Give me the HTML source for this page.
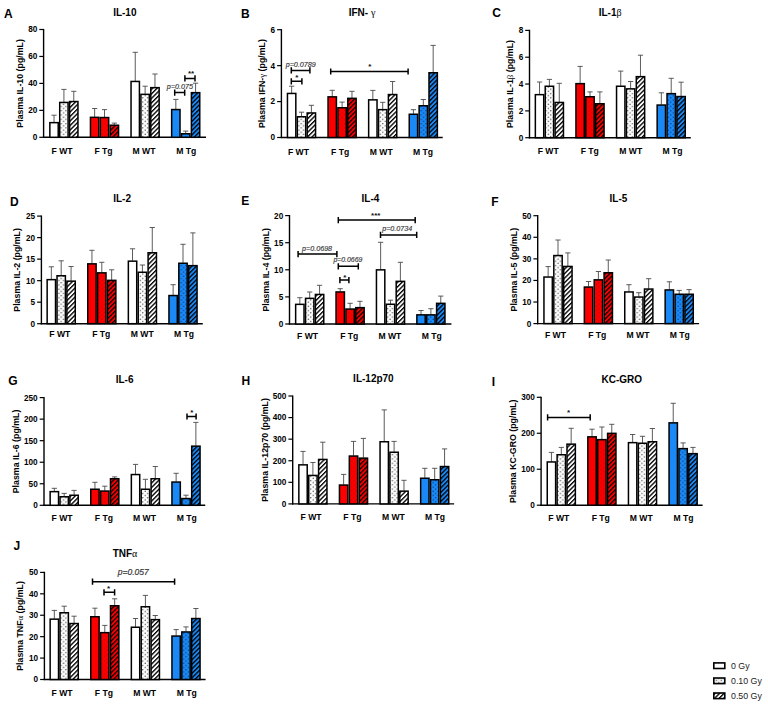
<!DOCTYPE html>
<html><head><meta charset="utf-8"><title>Plasma cytokines</title>
<style>
html,body{margin:0;padding:0;background:#fff;}
body{width:768px;height:708px;overflow:hidden;font-family:"Liberation Sans",sans-serif;}
svg{display:block;}
</style></head><body>
<svg width="768" height="708" viewBox="0 0 768 708">
<defs>
<pattern id="dotW" width="4.8" height="4.3" patternUnits="userSpaceOnUse">
<rect width="4.8" height="4.3" fill="#fbfbfb"/>
<circle cx="1.2" cy="1.07" r="0.65" fill="#333"/><circle cx="3.6" cy="3.22" r="0.65" fill="#333"/></pattern>
<pattern id="dotL" width="4.8" height="4.3" patternUnits="userSpaceOnUse">
<rect width="4.8" height="4.3" fill="#eee"/>
<circle cx="1.2" cy="1.07" r="0.6" fill="#444"/><circle cx="3.6" cy="3.22" r="0.6" fill="#444"/></pattern>
<pattern id="dotR" width="4.8" height="4.3" patternUnits="userSpaceOnUse">
<rect width="4.8" height="4.3" fill="#fa0000"/>
<circle cx="1.2" cy="1.07" r="0.55" fill="#c00000"/><circle cx="3.6" cy="3.22" r="0.55" fill="#c00000"/></pattern>
<pattern id="dotB" width="4.8" height="4.3" patternUnits="userSpaceOnUse">
<rect width="4.8" height="4.3" fill="#1a88f5"/>
<circle cx="1.2" cy="1.07" r="0.62" fill="#002a66"/><circle cx="3.6" cy="3.22" r="0.62" fill="#002a66"/></pattern>
<pattern id="hatW" width="3.2" height="3.2" patternUnits="userSpaceOnUse" patternTransform="rotate(45)">
<rect width="3.2" height="3.2" fill="#fff"/><rect width="1.35" height="3.2" fill="#000"/></pattern>
<pattern id="hatR" width="3.2" height="3.2" patternUnits="userSpaceOnUse" patternTransform="rotate(45)">
<rect width="3.2" height="3.2" fill="#fa0000"/><rect width="1.25" height="3.2" fill="#000"/></pattern>
<pattern id="hatB" width="3.2" height="3.2" patternUnits="userSpaceOnUse" patternTransform="rotate(45)">
<rect width="3.2" height="3.2" fill="#1a88f5"/><rect width="1.3" height="3.2" fill="#000"/></pattern>
</defs>
<rect width="768" height="708" fill="#fff"/>
<line x1="43.60" y1="28.90" x2="43.60" y2="137.90" stroke="#000" stroke-width="1.4"/>
<line x1="42.90" y1="137.30" x2="206.00" y2="137.30" stroke="#000" stroke-width="1.4"/>
<line x1="39.30" y1="137.30" x2="43.60" y2="137.30" stroke="#000" stroke-width="1.2"/>
<text x="37.30" y="140.20" font-family="Liberation Sans, sans-serif" font-size="8.2" font-weight="bold" font-style="normal" text-anchor="end" fill="#000" >0</text>
<line x1="39.30" y1="110.35" x2="43.60" y2="110.35" stroke="#000" stroke-width="1.2"/>
<text x="37.30" y="113.25" font-family="Liberation Sans, sans-serif" font-size="8.2" font-weight="bold" font-style="normal" text-anchor="end" fill="#000" >20</text>
<line x1="39.30" y1="83.40" x2="43.60" y2="83.40" stroke="#000" stroke-width="1.2"/>
<text x="37.30" y="86.30" font-family="Liberation Sans, sans-serif" font-size="8.2" font-weight="bold" font-style="normal" text-anchor="end" fill="#000" >40</text>
<line x1="39.30" y1="56.45" x2="43.60" y2="56.45" stroke="#000" stroke-width="1.2"/>
<text x="37.30" y="59.35" font-family="Liberation Sans, sans-serif" font-size="8.2" font-weight="bold" font-style="normal" text-anchor="end" fill="#000" >60</text>
<line x1="39.30" y1="29.50" x2="43.60" y2="29.50" stroke="#000" stroke-width="1.2"/>
<text x="37.30" y="32.40" font-family="Liberation Sans, sans-serif" font-size="8.2" font-weight="bold" font-style="normal" text-anchor="end" fill="#000" >80</text>
<text x="124.80" y="16.30" font-family="Liberation Sans, sans-serif" font-size="10" font-weight="bold" font-style="normal" text-anchor="middle" fill="#000" >IL-10</text>
<text x="4.00" y="17.80" font-family="Liberation Sans, sans-serif" font-size="12" font-weight="bold" font-style="normal" text-anchor="start" fill="#000" >A</text>
<text transform="translate(23.30,83.40) rotate(-90)" x="0" y="0" font-family="Liberation Sans, sans-serif" font-size="8.8" font-weight="bold" text-anchor="middle">Plasma IL-10 (pg/mL)</text>
<text x="62.00" y="153.60" font-family="Liberation Sans, sans-serif" font-size="8.6" font-weight="bold" font-style="normal" text-anchor="middle" fill="#000" >F WT</text>
<line x1="54.04" y1="115.20" x2="54.04" y2="122.30" stroke="#4a4a4a" stroke-width="0.9"/>
<line x1="51.44" y1="115.20" x2="56.64" y2="115.20" stroke="#4a4a4a" stroke-width="0.9"/>
<rect x="49.85" y="122.65" width="8.37" height="14.65" fill="#fff" stroke="#000" stroke-width="1.5"/>
<line x1="63.91" y1="89.40" x2="63.91" y2="102.10" stroke="#4a4a4a" stroke-width="0.9"/>
<line x1="61.30" y1="89.40" x2="66.50" y2="89.40" stroke="#4a4a4a" stroke-width="0.9"/>
<rect x="59.72" y="102.45" width="8.37" height="34.85" fill="url(#dotW)" stroke="#000" stroke-width="1.5"/>
<line x1="73.78" y1="91.30" x2="73.78" y2="101.20" stroke="#4a4a4a" stroke-width="0.9"/>
<line x1="71.18" y1="91.30" x2="76.38" y2="91.30" stroke="#4a4a4a" stroke-width="0.9"/>
<rect x="69.59" y="101.55" width="8.37" height="35.75" fill="url(#hatW)" stroke="#000" stroke-width="1.5"/>
<text x="103.50" y="153.60" font-family="Liberation Sans, sans-serif" font-size="8.6" font-weight="bold" font-style="normal" text-anchor="middle" fill="#000" >F Tg</text>
<line x1="94.64" y1="108.50" x2="94.64" y2="117.00" stroke="#4a4a4a" stroke-width="0.9"/>
<line x1="92.04" y1="108.50" x2="97.23" y2="108.50" stroke="#4a4a4a" stroke-width="0.9"/>
<rect x="90.45" y="117.35" width="8.37" height="19.95" fill="#fa0000" stroke="#000" stroke-width="1.5"/>
<line x1="104.51" y1="109.60" x2="104.51" y2="117.20" stroke="#4a4a4a" stroke-width="0.9"/>
<line x1="101.91" y1="109.60" x2="107.11" y2="109.60" stroke="#4a4a4a" stroke-width="0.9"/>
<rect x="100.32" y="117.55" width="8.37" height="19.75" fill="url(#dotR)" stroke="#000" stroke-width="1.5"/>
<line x1="114.38" y1="123.10" x2="114.38" y2="124.90" stroke="#4a4a4a" stroke-width="0.9"/>
<line x1="111.78" y1="123.10" x2="116.97" y2="123.10" stroke="#4a4a4a" stroke-width="0.9"/>
<rect x="110.19" y="125.25" width="8.37" height="12.05" fill="url(#hatR)" stroke="#000" stroke-width="1.5"/>
<text x="144.00" y="153.60" font-family="Liberation Sans, sans-serif" font-size="8.6" font-weight="bold" font-style="normal" text-anchor="middle" fill="#000" >M WT</text>
<line x1="135.24" y1="52.30" x2="135.24" y2="81.10" stroke="#4a4a4a" stroke-width="0.9"/>
<line x1="132.64" y1="52.30" x2="137.84" y2="52.30" stroke="#4a4a4a" stroke-width="0.9"/>
<rect x="131.05" y="81.45" width="8.37" height="55.85" fill="#fff" stroke="#000" stroke-width="1.5"/>
<line x1="145.11" y1="86.20" x2="145.11" y2="94.00" stroke="#4a4a4a" stroke-width="0.9"/>
<line x1="142.51" y1="86.20" x2="147.71" y2="86.20" stroke="#4a4a4a" stroke-width="0.9"/>
<rect x="140.92" y="94.35" width="8.37" height="42.95" fill="url(#dotW)" stroke="#000" stroke-width="1.5"/>
<line x1="154.98" y1="74.00" x2="154.98" y2="87.30" stroke="#4a4a4a" stroke-width="0.9"/>
<line x1="152.38" y1="74.00" x2="157.58" y2="74.00" stroke="#4a4a4a" stroke-width="0.9"/>
<rect x="150.79" y="87.65" width="8.37" height="49.65" fill="url(#hatW)" stroke="#000" stroke-width="1.5"/>
<text x="186.20" y="153.60" font-family="Liberation Sans, sans-serif" font-size="8.6" font-weight="bold" font-style="normal" text-anchor="middle" fill="#000" >M Tg</text>
<line x1="175.84" y1="99.40" x2="175.84" y2="109.20" stroke="#4a4a4a" stroke-width="0.9"/>
<line x1="173.24" y1="99.40" x2="178.44" y2="99.40" stroke="#4a4a4a" stroke-width="0.9"/>
<rect x="171.65" y="109.55" width="8.37" height="27.75" fill="#1a88f5" stroke="#000" stroke-width="1.5"/>
<line x1="185.71" y1="131.10" x2="185.71" y2="133.40" stroke="#4a4a4a" stroke-width="0.9"/>
<line x1="183.11" y1="131.10" x2="188.31" y2="131.10" stroke="#4a4a4a" stroke-width="0.9"/>
<rect x="181.52" y="133.75" width="8.37" height="3.55" fill="url(#dotB)" stroke="#000" stroke-width="1.5"/>
<line x1="195.58" y1="83.20" x2="195.58" y2="92.30" stroke="#4a4a4a" stroke-width="0.9"/>
<line x1="192.98" y1="83.20" x2="198.18" y2="83.20" stroke="#4a4a4a" stroke-width="0.9"/>
<rect x="191.39" y="92.65" width="8.37" height="44.65" fill="url(#hatB)" stroke="#000" stroke-width="1.5"/>
<path d="M174.70,89.50V95.70M174.70,92.60H184.70M184.70,89.50V95.70" stroke="#000" stroke-width="1.5" fill="none"/>
<text x="179.85" y="88.60" font-family="Liberation Sans, sans-serif" font-size="7.3" font-weight="normal" font-style="italic" text-anchor="middle" fill="#333" stroke="#333" stroke-width="0.15" textLength="26.2" lengthAdjust="spacingAndGlyphs">p=0.075</text>
<path d="M184.90,75.30V81.50M184.90,78.40H195.00M195.00,75.30V81.50" stroke="#000" stroke-width="1.5" fill="none"/>
<text x="191.00" y="75.60" font-family="Liberation Sans, sans-serif" font-size="8" font-weight="bold" font-style="normal" text-anchor="middle" fill="#111" >**</text>
<line x1="281.40" y1="29.10" x2="281.40" y2="138.10" stroke="#000" stroke-width="1.4"/>
<line x1="280.70" y1="137.50" x2="442.70" y2="137.50" stroke="#000" stroke-width="1.4"/>
<line x1="277.10" y1="137.50" x2="281.40" y2="137.50" stroke="#000" stroke-width="1.2"/>
<text x="275.10" y="140.40" font-family="Liberation Sans, sans-serif" font-size="8.2" font-weight="bold" font-style="normal" text-anchor="end" fill="#000" >0</text>
<line x1="277.10" y1="101.57" x2="281.40" y2="101.57" stroke="#000" stroke-width="1.2"/>
<text x="275.10" y="104.47" font-family="Liberation Sans, sans-serif" font-size="8.2" font-weight="bold" font-style="normal" text-anchor="end" fill="#000" >2</text>
<line x1="277.10" y1="65.63" x2="281.40" y2="65.63" stroke="#000" stroke-width="1.2"/>
<text x="275.10" y="68.53" font-family="Liberation Sans, sans-serif" font-size="8.2" font-weight="bold" font-style="normal" text-anchor="end" fill="#000" >4</text>
<line x1="277.10" y1="29.70" x2="281.40" y2="29.70" stroke="#000" stroke-width="1.2"/>
<text x="275.10" y="32.60" font-family="Liberation Sans, sans-serif" font-size="8.2" font-weight="bold" font-style="normal" text-anchor="end" fill="#000" >6</text>
<text x="362.05" y="15.60" font-family="Liberation Sans, sans-serif" font-size="10" font-weight="bold" font-style="normal" text-anchor="middle" fill="#000" >IFN- <tspan font-family="Liberation Serif" font-weight="normal">γ</tspan></text>
<text x="241.00" y="18.30" font-family="Liberation Sans, sans-serif" font-size="12" font-weight="bold" font-style="normal" text-anchor="start" fill="#000" >B</text>
<text transform="translate(265.30,83.60) rotate(-90)" x="0" y="0" font-family="Liberation Sans, sans-serif" font-size="8.8" font-weight="bold" text-anchor="middle">Plasma IFN-<tspan font-family="Liberation Serif" font-weight="normal">γ</tspan> (pg/mL)</text>
<text x="298.40" y="155.10" font-family="Liberation Sans, sans-serif" font-size="8.6" font-weight="bold" font-style="normal" text-anchor="middle" fill="#000" >F WT</text>
<line x1="291.63" y1="86.20" x2="291.63" y2="93.10" stroke="#4a4a4a" stroke-width="0.9"/>
<line x1="289.03" y1="86.20" x2="294.24" y2="86.20" stroke="#4a4a4a" stroke-width="0.9"/>
<rect x="287.45" y="93.45" width="8.37" height="44.05" fill="#fff" stroke="#000" stroke-width="1.5"/>
<line x1="301.50" y1="112.20" x2="301.50" y2="116.40" stroke="#4a4a4a" stroke-width="0.9"/>
<line x1="298.90" y1="112.20" x2="304.11" y2="112.20" stroke="#4a4a4a" stroke-width="0.9"/>
<rect x="297.32" y="116.75" width="8.37" height="20.75" fill="url(#dotW)" stroke="#000" stroke-width="1.5"/>
<line x1="311.38" y1="105.30" x2="311.38" y2="112.60" stroke="#4a4a4a" stroke-width="0.9"/>
<line x1="308.77" y1="105.30" x2="313.98" y2="105.30" stroke="#4a4a4a" stroke-width="0.9"/>
<rect x="307.19" y="112.95" width="8.37" height="24.55" fill="url(#hatW)" stroke="#000" stroke-width="1.5"/>
<text x="340.10" y="155.10" font-family="Liberation Sans, sans-serif" font-size="8.6" font-weight="bold" font-style="normal" text-anchor="middle" fill="#000" >F Tg</text>
<line x1="332.24" y1="90.30" x2="332.24" y2="96.50" stroke="#4a4a4a" stroke-width="0.9"/>
<line x1="329.63" y1="90.30" x2="334.84" y2="90.30" stroke="#4a4a4a" stroke-width="0.9"/>
<rect x="328.05" y="96.85" width="8.37" height="40.65" fill="#fa0000" stroke="#000" stroke-width="1.5"/>
<line x1="342.11" y1="102.10" x2="342.11" y2="107.40" stroke="#4a4a4a" stroke-width="0.9"/>
<line x1="339.50" y1="102.10" x2="344.71" y2="102.10" stroke="#4a4a4a" stroke-width="0.9"/>
<rect x="337.92" y="107.75" width="8.37" height="29.75" fill="url(#dotR)" stroke="#000" stroke-width="1.5"/>
<line x1="351.98" y1="91.30" x2="351.98" y2="98.00" stroke="#4a4a4a" stroke-width="0.9"/>
<line x1="349.38" y1="91.30" x2="354.58" y2="91.30" stroke="#4a4a4a" stroke-width="0.9"/>
<rect x="347.79" y="98.35" width="8.37" height="39.15" fill="url(#hatR)" stroke="#000" stroke-width="1.5"/>
<text x="381.20" y="155.10" font-family="Liberation Sans, sans-serif" font-size="8.6" font-weight="bold" font-style="normal" text-anchor="middle" fill="#000" >M WT</text>
<line x1="372.83" y1="90.40" x2="372.83" y2="99.50" stroke="#4a4a4a" stroke-width="0.9"/>
<line x1="370.23" y1="90.40" x2="375.44" y2="90.40" stroke="#4a4a4a" stroke-width="0.9"/>
<rect x="368.65" y="99.85" width="8.37" height="37.65" fill="#fff" stroke="#000" stroke-width="1.5"/>
<line x1="382.70" y1="102.30" x2="382.70" y2="109.30" stroke="#4a4a4a" stroke-width="0.9"/>
<line x1="380.10" y1="102.30" x2="385.31" y2="102.30" stroke="#4a4a4a" stroke-width="0.9"/>
<rect x="378.52" y="109.65" width="8.37" height="27.85" fill="url(#dotW)" stroke="#000" stroke-width="1.5"/>
<line x1="392.57" y1="81.50" x2="392.57" y2="94.20" stroke="#4a4a4a" stroke-width="0.9"/>
<line x1="389.97" y1="81.50" x2="395.18" y2="81.50" stroke="#4a4a4a" stroke-width="0.9"/>
<rect x="388.39" y="94.55" width="8.37" height="42.95" fill="url(#hatW)" stroke="#000" stroke-width="1.5"/>
<text x="423.00" y="155.10" font-family="Liberation Sans, sans-serif" font-size="8.6" font-weight="bold" font-style="normal" text-anchor="middle" fill="#000" >M Tg</text>
<line x1="413.44" y1="109.70" x2="413.44" y2="113.90" stroke="#4a4a4a" stroke-width="0.9"/>
<line x1="410.83" y1="109.70" x2="416.04" y2="109.70" stroke="#4a4a4a" stroke-width="0.9"/>
<rect x="409.25" y="114.25" width="8.37" height="23.25" fill="#1a88f5" stroke="#000" stroke-width="1.5"/>
<line x1="423.31" y1="99.50" x2="423.31" y2="105.40" stroke="#4a4a4a" stroke-width="0.9"/>
<line x1="420.70" y1="99.50" x2="425.91" y2="99.50" stroke="#4a4a4a" stroke-width="0.9"/>
<rect x="419.12" y="105.75" width="8.37" height="31.75" fill="url(#dotB)" stroke="#000" stroke-width="1.5"/>
<line x1="433.18" y1="45.40" x2="433.18" y2="72.40" stroke="#4a4a4a" stroke-width="0.9"/>
<line x1="430.57" y1="45.40" x2="435.78" y2="45.40" stroke="#4a4a4a" stroke-width="0.9"/>
<rect x="428.99" y="72.75" width="8.37" height="64.75" fill="url(#hatB)" stroke="#000" stroke-width="1.5"/>
<path d="M291.30,78.20V84.40M291.30,81.30H301.90M301.90,78.20V84.40" stroke="#000" stroke-width="1.5" fill="none"/>
<text x="296.90" y="80.40" font-family="Liberation Sans, sans-serif" font-size="8" font-weight="bold" font-style="normal" text-anchor="middle" fill="#111" >*</text>
<path d="M291.30,67.30V73.50M291.30,70.40H309.90M309.90,67.30V73.50" stroke="#000" stroke-width="1.5" fill="none"/>
<text x="300.75" y="66.70" font-family="Liberation Sans, sans-serif" font-size="7.4" font-weight="normal" font-style="italic" text-anchor="middle" fill="#333" stroke="#333" stroke-width="0.15" textLength="30.1" lengthAdjust="spacingAndGlyphs">p=0.0789</text>
<path d="M330.70,68.40V74.60M330.70,71.50H408.10M408.10,68.40V74.60" stroke="#000" stroke-width="1.5" fill="none"/>
<text x="369.70" y="69.00" font-family="Liberation Sans, sans-serif" font-size="8" font-weight="bold" font-style="normal" text-anchor="middle" fill="#111" >*</text>
<line x1="529.50" y1="29.80" x2="529.50" y2="138.30" stroke="#000" stroke-width="1.4"/>
<line x1="528.80" y1="137.70" x2="690.80" y2="137.70" stroke="#000" stroke-width="1.4"/>
<line x1="525.20" y1="137.70" x2="529.50" y2="137.70" stroke="#000" stroke-width="1.2"/>
<text x="523.20" y="140.60" font-family="Liberation Sans, sans-serif" font-size="8.2" font-weight="bold" font-style="normal" text-anchor="end" fill="#000" >0</text>
<line x1="525.20" y1="110.88" x2="529.50" y2="110.88" stroke="#000" stroke-width="1.2"/>
<text x="523.20" y="113.78" font-family="Liberation Sans, sans-serif" font-size="8.2" font-weight="bold" font-style="normal" text-anchor="end" fill="#000" >2</text>
<line x1="525.20" y1="84.05" x2="529.50" y2="84.05" stroke="#000" stroke-width="1.2"/>
<text x="523.20" y="86.95" font-family="Liberation Sans, sans-serif" font-size="8.2" font-weight="bold" font-style="normal" text-anchor="end" fill="#000" >4</text>
<line x1="525.20" y1="57.22" x2="529.50" y2="57.22" stroke="#000" stroke-width="1.2"/>
<text x="523.20" y="60.12" font-family="Liberation Sans, sans-serif" font-size="8.2" font-weight="bold" font-style="normal" text-anchor="end" fill="#000" >6</text>
<line x1="525.20" y1="30.40" x2="529.50" y2="30.40" stroke="#000" stroke-width="1.2"/>
<text x="523.20" y="33.30" font-family="Liberation Sans, sans-serif" font-size="8.2" font-weight="bold" font-style="normal" text-anchor="end" fill="#000" >8</text>
<text x="610.15" y="15.60" font-family="Liberation Sans, sans-serif" font-size="10" font-weight="bold" font-style="normal" text-anchor="middle" fill="#000" >IL-1<tspan font-family="Liberation Serif" font-weight="normal">β</tspan></text>
<text x="492.30" y="17.30" font-family="Liberation Sans, sans-serif" font-size="12" font-weight="bold" font-style="normal" text-anchor="start" fill="#000" >C</text>
<text transform="translate(512.80,84.05) rotate(-90)" x="0" y="0" font-family="Liberation Sans, sans-serif" font-size="8.8" font-weight="bold" text-anchor="middle">Plasma IL-1<tspan font-family="Liberation Serif" font-weight="normal">β</tspan> (pg/mL)</text>
<text x="548.20" y="153.50" font-family="Liberation Sans, sans-serif" font-size="8.6" font-weight="bold" font-style="normal" text-anchor="middle" fill="#000" >F WT</text>
<line x1="539.53" y1="82.00" x2="539.53" y2="94.30" stroke="#4a4a4a" stroke-width="0.9"/>
<line x1="536.93" y1="82.00" x2="542.13" y2="82.00" stroke="#4a4a4a" stroke-width="0.9"/>
<rect x="535.35" y="94.65" width="8.37" height="43.05" fill="#fff" stroke="#000" stroke-width="1.5"/>
<line x1="549.40" y1="79.40" x2="549.40" y2="85.90" stroke="#4a4a4a" stroke-width="0.9"/>
<line x1="546.80" y1="79.40" x2="552.00" y2="79.40" stroke="#4a4a4a" stroke-width="0.9"/>
<rect x="545.22" y="86.25" width="8.37" height="51.45" fill="url(#dotW)" stroke="#000" stroke-width="1.5"/>
<line x1="559.27" y1="83.30" x2="559.27" y2="102.10" stroke="#4a4a4a" stroke-width="0.9"/>
<line x1="556.67" y1="83.30" x2="561.88" y2="83.30" stroke="#4a4a4a" stroke-width="0.9"/>
<rect x="555.09" y="102.45" width="8.37" height="35.25" fill="url(#hatW)" stroke="#000" stroke-width="1.5"/>
<text x="589.80" y="153.50" font-family="Liberation Sans, sans-serif" font-size="8.6" font-weight="bold" font-style="normal" text-anchor="middle" fill="#000" >F Tg</text>
<line x1="580.13" y1="66.40" x2="580.13" y2="83.30" stroke="#4a4a4a" stroke-width="0.9"/>
<line x1="577.53" y1="66.40" x2="582.74" y2="66.40" stroke="#4a4a4a" stroke-width="0.9"/>
<rect x="575.95" y="83.65" width="8.37" height="54.05" fill="#fa0000" stroke="#000" stroke-width="1.5"/>
<line x1="590.00" y1="91.90" x2="590.00" y2="96.40" stroke="#4a4a4a" stroke-width="0.9"/>
<line x1="587.40" y1="91.90" x2="592.61" y2="91.90" stroke="#4a4a4a" stroke-width="0.9"/>
<rect x="585.82" y="96.75" width="8.37" height="40.95" fill="url(#dotR)" stroke="#000" stroke-width="1.5"/>
<line x1="599.88" y1="91.90" x2="599.88" y2="103.40" stroke="#4a4a4a" stroke-width="0.9"/>
<line x1="597.27" y1="91.90" x2="602.48" y2="91.90" stroke="#4a4a4a" stroke-width="0.9"/>
<rect x="595.69" y="103.75" width="8.37" height="33.95" fill="url(#hatR)" stroke="#000" stroke-width="1.5"/>
<text x="630.80" y="153.50" font-family="Liberation Sans, sans-serif" font-size="8.6" font-weight="bold" font-style="normal" text-anchor="middle" fill="#000" >M WT</text>
<line x1="620.74" y1="71.10" x2="620.74" y2="85.90" stroke="#4a4a4a" stroke-width="0.9"/>
<line x1="618.13" y1="71.10" x2="623.34" y2="71.10" stroke="#4a4a4a" stroke-width="0.9"/>
<rect x="616.55" y="86.25" width="8.37" height="51.45" fill="#fff" stroke="#000" stroke-width="1.5"/>
<line x1="630.61" y1="81.50" x2="630.61" y2="88.50" stroke="#4a4a4a" stroke-width="0.9"/>
<line x1="628.00" y1="81.50" x2="633.21" y2="81.50" stroke="#4a4a4a" stroke-width="0.9"/>
<rect x="626.42" y="88.85" width="8.37" height="48.85" fill="url(#dotW)" stroke="#000" stroke-width="1.5"/>
<line x1="640.48" y1="55.20" x2="640.48" y2="76.30" stroke="#4a4a4a" stroke-width="0.9"/>
<line x1="637.88" y1="55.20" x2="643.08" y2="55.20" stroke="#4a4a4a" stroke-width="0.9"/>
<rect x="636.29" y="76.65" width="8.37" height="61.05" fill="url(#hatW)" stroke="#000" stroke-width="1.5"/>
<text x="672.40" y="153.50" font-family="Liberation Sans, sans-serif" font-size="8.6" font-weight="bold" font-style="normal" text-anchor="middle" fill="#000" >M Tg</text>
<line x1="661.34" y1="92.80" x2="661.34" y2="104.70" stroke="#4a4a4a" stroke-width="0.9"/>
<line x1="658.74" y1="92.80" x2="663.94" y2="92.80" stroke="#4a4a4a" stroke-width="0.9"/>
<rect x="657.15" y="105.05" width="8.37" height="32.65" fill="#1a88f5" stroke="#000" stroke-width="1.5"/>
<line x1="671.21" y1="78.30" x2="671.21" y2="93.30" stroke="#4a4a4a" stroke-width="0.9"/>
<line x1="668.61" y1="78.30" x2="673.81" y2="78.30" stroke="#4a4a4a" stroke-width="0.9"/>
<rect x="667.02" y="93.65" width="8.37" height="44.05" fill="url(#dotB)" stroke="#000" stroke-width="1.5"/>
<line x1="681.08" y1="82.20" x2="681.08" y2="96.20" stroke="#4a4a4a" stroke-width="0.9"/>
<line x1="678.48" y1="82.20" x2="683.68" y2="82.20" stroke="#4a4a4a" stroke-width="0.9"/>
<rect x="676.89" y="96.55" width="8.37" height="41.15" fill="url(#hatB)" stroke="#000" stroke-width="1.5"/>
<line x1="41.40" y1="215.50" x2="41.40" y2="324.30" stroke="#000" stroke-width="1.4"/>
<line x1="40.70" y1="323.70" x2="202.80" y2="323.70" stroke="#000" stroke-width="1.4"/>
<line x1="37.10" y1="323.70" x2="41.40" y2="323.70" stroke="#000" stroke-width="1.2"/>
<text x="35.10" y="326.60" font-family="Liberation Sans, sans-serif" font-size="8.2" font-weight="bold" font-style="normal" text-anchor="end" fill="#000" >0</text>
<line x1="37.10" y1="302.18" x2="41.40" y2="302.18" stroke="#000" stroke-width="1.2"/>
<text x="35.10" y="305.08" font-family="Liberation Sans, sans-serif" font-size="8.2" font-weight="bold" font-style="normal" text-anchor="end" fill="#000" >5</text>
<line x1="37.10" y1="280.66" x2="41.40" y2="280.66" stroke="#000" stroke-width="1.2"/>
<text x="35.10" y="283.56" font-family="Liberation Sans, sans-serif" font-size="8.2" font-weight="bold" font-style="normal" text-anchor="end" fill="#000" >10</text>
<line x1="37.10" y1="259.14" x2="41.40" y2="259.14" stroke="#000" stroke-width="1.2"/>
<text x="35.10" y="262.04" font-family="Liberation Sans, sans-serif" font-size="8.2" font-weight="bold" font-style="normal" text-anchor="end" fill="#000" >15</text>
<line x1="37.10" y1="237.62" x2="41.40" y2="237.62" stroke="#000" stroke-width="1.2"/>
<text x="35.10" y="240.52" font-family="Liberation Sans, sans-serif" font-size="8.2" font-weight="bold" font-style="normal" text-anchor="end" fill="#000" >20</text>
<line x1="37.10" y1="216.10" x2="41.40" y2="216.10" stroke="#000" stroke-width="1.2"/>
<text x="35.10" y="219.00" font-family="Liberation Sans, sans-serif" font-size="8.2" font-weight="bold" font-style="normal" text-anchor="end" fill="#000" >25</text>
<text x="122.10" y="202.00" font-family="Liberation Sans, sans-serif" font-size="10" font-weight="bold" font-style="normal" text-anchor="middle" fill="#000" >IL-2</text>
<text x="10.00" y="205.80" font-family="Liberation Sans, sans-serif" font-size="12" font-weight="bold" font-style="normal" text-anchor="start" fill="#000" >D</text>
<text transform="translate(20.30,269.90) rotate(-90)" x="0" y="0" font-family="Liberation Sans, sans-serif" font-size="8.8" font-weight="bold" text-anchor="middle">Plasma IL-2 (pg/mL)</text>
<text x="59.80" y="337.10" font-family="Liberation Sans, sans-serif" font-size="8.6" font-weight="bold" font-style="normal" text-anchor="middle" fill="#000" >F WT</text>
<line x1="51.34" y1="266.80" x2="51.34" y2="279.30" stroke="#4a4a4a" stroke-width="0.9"/>
<line x1="48.73" y1="266.80" x2="53.94" y2="266.80" stroke="#4a4a4a" stroke-width="0.9"/>
<rect x="47.15" y="279.65" width="8.37" height="44.05" fill="#fff" stroke="#000" stroke-width="1.5"/>
<line x1="61.20" y1="260.80" x2="61.20" y2="275.40" stroke="#4a4a4a" stroke-width="0.9"/>
<line x1="58.60" y1="260.80" x2="63.80" y2="260.80" stroke="#4a4a4a" stroke-width="0.9"/>
<rect x="57.02" y="275.75" width="8.37" height="47.95" fill="url(#dotW)" stroke="#000" stroke-width="1.5"/>
<line x1="71.08" y1="266.50" x2="71.08" y2="280.80" stroke="#4a4a4a" stroke-width="0.9"/>
<line x1="68.48" y1="266.50" x2="73.67" y2="266.50" stroke="#4a4a4a" stroke-width="0.9"/>
<rect x="66.89" y="281.15" width="8.37" height="42.55" fill="url(#hatW)" stroke="#000" stroke-width="1.5"/>
<text x="101.20" y="337.10" font-family="Liberation Sans, sans-serif" font-size="8.6" font-weight="bold" font-style="normal" text-anchor="middle" fill="#000" >F Tg</text>
<line x1="91.94" y1="250.30" x2="91.94" y2="263.50" stroke="#4a4a4a" stroke-width="0.9"/>
<line x1="89.34" y1="250.30" x2="94.53" y2="250.30" stroke="#4a4a4a" stroke-width="0.9"/>
<rect x="87.75" y="263.85" width="8.37" height="59.85" fill="#fa0000" stroke="#000" stroke-width="1.5"/>
<line x1="101.81" y1="262.30" x2="101.81" y2="272.50" stroke="#4a4a4a" stroke-width="0.9"/>
<line x1="99.21" y1="262.30" x2="104.41" y2="262.30" stroke="#4a4a4a" stroke-width="0.9"/>
<rect x="97.62" y="272.85" width="8.37" height="50.85" fill="url(#dotR)" stroke="#000" stroke-width="1.5"/>
<line x1="111.67" y1="269.80" x2="111.67" y2="280.00" stroke="#4a4a4a" stroke-width="0.9"/>
<line x1="109.08" y1="269.80" x2="114.27" y2="269.80" stroke="#4a4a4a" stroke-width="0.9"/>
<rect x="107.49" y="280.35" width="8.37" height="43.35" fill="url(#hatR)" stroke="#000" stroke-width="1.5"/>
<text x="142.30" y="337.10" font-family="Liberation Sans, sans-serif" font-size="8.6" font-weight="bold" font-style="normal" text-anchor="middle" fill="#000" >M WT</text>
<line x1="132.53" y1="248.80" x2="132.53" y2="260.80" stroke="#4a4a4a" stroke-width="0.9"/>
<line x1="129.94" y1="248.80" x2="135.13" y2="248.80" stroke="#4a4a4a" stroke-width="0.9"/>
<rect x="128.35" y="261.15" width="8.37" height="62.55" fill="#fff" stroke="#000" stroke-width="1.5"/>
<line x1="142.41" y1="265.00" x2="142.41" y2="271.90" stroke="#4a4a4a" stroke-width="0.9"/>
<line x1="139.81" y1="265.00" x2="145.00" y2="265.00" stroke="#4a4a4a" stroke-width="0.9"/>
<rect x="138.22" y="272.25" width="8.37" height="51.45" fill="url(#dotW)" stroke="#000" stroke-width="1.5"/>
<line x1="152.28" y1="227.50" x2="152.28" y2="252.40" stroke="#4a4a4a" stroke-width="0.9"/>
<line x1="149.68" y1="227.50" x2="154.88" y2="227.50" stroke="#4a4a4a" stroke-width="0.9"/>
<rect x="148.09" y="252.75" width="8.37" height="70.95" fill="url(#hatW)" stroke="#000" stroke-width="1.5"/>
<text x="184.00" y="337.10" font-family="Liberation Sans, sans-serif" font-size="8.6" font-weight="bold" font-style="normal" text-anchor="middle" fill="#000" >M Tg</text>
<line x1="173.14" y1="284.70" x2="173.14" y2="295.20" stroke="#4a4a4a" stroke-width="0.9"/>
<line x1="170.54" y1="284.70" x2="175.74" y2="284.70" stroke="#4a4a4a" stroke-width="0.9"/>
<rect x="168.95" y="295.55" width="8.37" height="28.15" fill="#1a88f5" stroke="#000" stroke-width="1.5"/>
<line x1="183.01" y1="244.30" x2="183.01" y2="262.90" stroke="#4a4a4a" stroke-width="0.9"/>
<line x1="180.41" y1="244.30" x2="185.61" y2="244.30" stroke="#4a4a4a" stroke-width="0.9"/>
<rect x="178.82" y="263.25" width="8.37" height="60.45" fill="url(#dotB)" stroke="#000" stroke-width="1.5"/>
<line x1="192.88" y1="232.90" x2="192.88" y2="265.30" stroke="#4a4a4a" stroke-width="0.9"/>
<line x1="190.28" y1="232.90" x2="195.48" y2="232.90" stroke="#4a4a4a" stroke-width="0.9"/>
<rect x="188.69" y="265.65" width="8.37" height="58.05" fill="url(#hatB)" stroke="#000" stroke-width="1.5"/>
<line x1="289.50" y1="215.00" x2="289.50" y2="324.60" stroke="#000" stroke-width="1.4"/>
<line x1="288.80" y1="324.00" x2="451.40" y2="324.00" stroke="#000" stroke-width="1.4"/>
<line x1="285.20" y1="324.00" x2="289.50" y2="324.00" stroke="#000" stroke-width="1.2"/>
<text x="283.20" y="326.90" font-family="Liberation Sans, sans-serif" font-size="8.2" font-weight="bold" font-style="normal" text-anchor="end" fill="#000" >0</text>
<line x1="285.20" y1="296.90" x2="289.50" y2="296.90" stroke="#000" stroke-width="1.2"/>
<text x="283.20" y="299.80" font-family="Liberation Sans, sans-serif" font-size="8.2" font-weight="bold" font-style="normal" text-anchor="end" fill="#000" >5</text>
<line x1="285.20" y1="269.80" x2="289.50" y2="269.80" stroke="#000" stroke-width="1.2"/>
<text x="283.20" y="272.70" font-family="Liberation Sans, sans-serif" font-size="8.2" font-weight="bold" font-style="normal" text-anchor="end" fill="#000" >10</text>
<line x1="285.20" y1="242.70" x2="289.50" y2="242.70" stroke="#000" stroke-width="1.2"/>
<text x="283.20" y="245.60" font-family="Liberation Sans, sans-serif" font-size="8.2" font-weight="bold" font-style="normal" text-anchor="end" fill="#000" >15</text>
<line x1="285.20" y1="215.60" x2="289.50" y2="215.60" stroke="#000" stroke-width="1.2"/>
<text x="283.20" y="218.50" font-family="Liberation Sans, sans-serif" font-size="8.2" font-weight="bold" font-style="normal" text-anchor="end" fill="#000" >20</text>
<text x="370.45" y="201.50" font-family="Liberation Sans, sans-serif" font-size="10" font-weight="bold" font-style="normal" text-anchor="middle" fill="#000" >IL-4</text>
<text x="241.20" y="205.40" font-family="Liberation Sans, sans-serif" font-size="12" font-weight="bold" font-style="normal" text-anchor="start" fill="#000" >E</text>
<text transform="translate(268.80,269.80) rotate(-90)" x="0" y="0" font-family="Liberation Sans, sans-serif" font-size="8.8" font-weight="bold" text-anchor="middle">Plasma IL-4 (pg/mL)</text>
<text x="307.50" y="339.30" font-family="Liberation Sans, sans-serif" font-size="8.6" font-weight="bold" font-style="normal" text-anchor="middle" fill="#000" >F WT</text>
<line x1="299.83" y1="297.70" x2="299.83" y2="304.00" stroke="#4a4a4a" stroke-width="0.9"/>
<line x1="297.23" y1="297.70" x2="302.44" y2="297.70" stroke="#4a4a4a" stroke-width="0.9"/>
<rect x="295.65" y="304.35" width="8.37" height="19.65" fill="#fff" stroke="#000" stroke-width="1.5"/>
<line x1="309.70" y1="292.00" x2="309.70" y2="298.00" stroke="#4a4a4a" stroke-width="0.9"/>
<line x1="307.10" y1="292.00" x2="312.31" y2="292.00" stroke="#4a4a4a" stroke-width="0.9"/>
<rect x="305.52" y="298.35" width="8.37" height="25.65" fill="url(#dotW)" stroke="#000" stroke-width="1.5"/>
<line x1="319.57" y1="285.30" x2="319.57" y2="294.10" stroke="#4a4a4a" stroke-width="0.9"/>
<line x1="316.97" y1="285.30" x2="322.18" y2="285.30" stroke="#4a4a4a" stroke-width="0.9"/>
<rect x="315.39" y="294.45" width="8.37" height="29.55" fill="url(#hatW)" stroke="#000" stroke-width="1.5"/>
<text x="349.30" y="339.30" font-family="Liberation Sans, sans-serif" font-size="8.6" font-weight="bold" font-style="normal" text-anchor="middle" fill="#000" >F Tg</text>
<line x1="340.23" y1="288.70" x2="340.23" y2="291.60" stroke="#4a4a4a" stroke-width="0.9"/>
<line x1="337.63" y1="288.70" x2="342.83" y2="288.70" stroke="#4a4a4a" stroke-width="0.9"/>
<rect x="336.05" y="291.95" width="8.37" height="32.05" fill="#fa0000" stroke="#000" stroke-width="1.5"/>
<line x1="350.10" y1="303.30" x2="350.10" y2="308.70" stroke="#4a4a4a" stroke-width="0.9"/>
<line x1="347.50" y1="303.30" x2="352.70" y2="303.30" stroke="#4a4a4a" stroke-width="0.9"/>
<rect x="345.92" y="309.05" width="8.37" height="14.95" fill="url(#dotR)" stroke="#000" stroke-width="1.5"/>
<line x1="359.97" y1="301.30" x2="359.97" y2="307.30" stroke="#4a4a4a" stroke-width="0.9"/>
<line x1="357.37" y1="301.30" x2="362.57" y2="301.30" stroke="#4a4a4a" stroke-width="0.9"/>
<rect x="355.79" y="307.65" width="8.37" height="16.35" fill="url(#hatR)" stroke="#000" stroke-width="1.5"/>
<text x="389.90" y="339.30" font-family="Liberation Sans, sans-serif" font-size="8.6" font-weight="bold" font-style="normal" text-anchor="middle" fill="#000" >M WT</text>
<line x1="380.63" y1="242.30" x2="380.63" y2="269.50" stroke="#4a4a4a" stroke-width="0.9"/>
<line x1="378.03" y1="242.30" x2="383.24" y2="242.30" stroke="#4a4a4a" stroke-width="0.9"/>
<rect x="376.45" y="269.85" width="8.37" height="54.15" fill="#fff" stroke="#000" stroke-width="1.5"/>
<line x1="390.50" y1="300.20" x2="390.50" y2="303.90" stroke="#4a4a4a" stroke-width="0.9"/>
<line x1="387.90" y1="300.20" x2="393.11" y2="300.20" stroke="#4a4a4a" stroke-width="0.9"/>
<rect x="386.32" y="304.25" width="8.37" height="19.75" fill="url(#dotW)" stroke="#000" stroke-width="1.5"/>
<line x1="400.38" y1="262.30" x2="400.38" y2="281.00" stroke="#4a4a4a" stroke-width="0.9"/>
<line x1="397.77" y1="262.30" x2="402.98" y2="262.30" stroke="#4a4a4a" stroke-width="0.9"/>
<rect x="396.19" y="281.35" width="8.37" height="42.65" fill="url(#hatW)" stroke="#000" stroke-width="1.5"/>
<text x="431.80" y="339.30" font-family="Liberation Sans, sans-serif" font-size="8.6" font-weight="bold" font-style="normal" text-anchor="middle" fill="#000" >M Tg</text>
<line x1="421.03" y1="310.50" x2="421.03" y2="314.50" stroke="#4a4a4a" stroke-width="0.9"/>
<line x1="418.43" y1="310.50" x2="423.63" y2="310.50" stroke="#4a4a4a" stroke-width="0.9"/>
<rect x="416.85" y="314.85" width="8.37" height="9.15" fill="#1a88f5" stroke="#000" stroke-width="1.5"/>
<line x1="430.90" y1="308.70" x2="430.90" y2="314.50" stroke="#4a4a4a" stroke-width="0.9"/>
<line x1="428.30" y1="308.70" x2="433.50" y2="308.70" stroke="#4a4a4a" stroke-width="0.9"/>
<rect x="426.72" y="314.85" width="8.37" height="9.15" fill="url(#dotB)" stroke="#000" stroke-width="1.5"/>
<line x1="440.77" y1="296.10" x2="440.77" y2="303.00" stroke="#4a4a4a" stroke-width="0.9"/>
<line x1="438.17" y1="296.10" x2="443.38" y2="296.10" stroke="#4a4a4a" stroke-width="0.9"/>
<rect x="436.59" y="303.35" width="8.37" height="20.65" fill="url(#hatB)" stroke="#000" stroke-width="1.5"/>
<path d="M338.30,217.00V223.20M338.30,220.10H415.20M415.20,217.00V223.20" stroke="#000" stroke-width="1.5" fill="none"/>
<text x="375.70" y="218.40" font-family="Liberation Sans, sans-serif" font-size="8" font-weight="bold" font-style="normal" text-anchor="middle" fill="#111" >***</text>
<path d="M380.50,231.80V238.00M380.50,234.90H416.70M416.70,231.80V238.00" stroke="#000" stroke-width="1.5" fill="none"/>
<text x="397.25" y="230.90" font-family="Liberation Sans, sans-serif" font-size="7.4" font-weight="normal" font-style="italic" text-anchor="middle" fill="#333" stroke="#333" stroke-width="0.15" textLength="30.1" lengthAdjust="spacingAndGlyphs">p=0.0734</text>
<path d="M298.10,251.00V257.20M298.10,254.10H336.90M336.90,251.00V257.20" stroke="#000" stroke-width="1.5" fill="none"/>
<text x="317.10" y="250.50" font-family="Liberation Sans, sans-serif" font-size="7.4" font-weight="normal" font-style="italic" text-anchor="middle" fill="#333" stroke="#333" stroke-width="0.15" textLength="30.0" lengthAdjust="spacingAndGlyphs">p=0.0698</text>
<path d="M338.30,263.20V269.40M338.30,266.30H358.30M358.30,263.20V269.40" stroke="#000" stroke-width="1.5" fill="none"/>
<text x="347.90" y="261.50" font-family="Liberation Sans, sans-serif" font-size="7.4" font-weight="normal" font-style="italic" text-anchor="middle" fill="#333" stroke="#333" stroke-width="0.15" textLength="29.0" lengthAdjust="spacingAndGlyphs">p=0.0669</text>
<path d="M339.90,277.00V283.20M339.90,280.10H348.90M348.90,277.00V283.20" stroke="#000" stroke-width="1.5" fill="none"/>
<text x="344.70" y="279.80" font-family="Liberation Sans, sans-serif" font-size="8" font-weight="bold" font-style="normal" text-anchor="middle" fill="#111" >*</text>
<line x1="537.70" y1="215.10" x2="537.70" y2="324.20" stroke="#000" stroke-width="1.4"/>
<line x1="537.00" y1="323.60" x2="699.10" y2="323.60" stroke="#000" stroke-width="1.4"/>
<line x1="533.40" y1="323.60" x2="537.70" y2="323.60" stroke="#000" stroke-width="1.2"/>
<text x="531.40" y="326.50" font-family="Liberation Sans, sans-serif" font-size="8.2" font-weight="bold" font-style="normal" text-anchor="end" fill="#000" >0</text>
<line x1="533.40" y1="302.02" x2="537.70" y2="302.02" stroke="#000" stroke-width="1.2"/>
<text x="531.40" y="304.92" font-family="Liberation Sans, sans-serif" font-size="8.2" font-weight="bold" font-style="normal" text-anchor="end" fill="#000" >10</text>
<line x1="533.40" y1="280.44" x2="537.70" y2="280.44" stroke="#000" stroke-width="1.2"/>
<text x="531.40" y="283.34" font-family="Liberation Sans, sans-serif" font-size="8.2" font-weight="bold" font-style="normal" text-anchor="end" fill="#000" >20</text>
<line x1="533.40" y1="258.86" x2="537.70" y2="258.86" stroke="#000" stroke-width="1.2"/>
<text x="531.40" y="261.76" font-family="Liberation Sans, sans-serif" font-size="8.2" font-weight="bold" font-style="normal" text-anchor="end" fill="#000" >30</text>
<line x1="533.40" y1="237.28" x2="537.70" y2="237.28" stroke="#000" stroke-width="1.2"/>
<text x="531.40" y="240.18" font-family="Liberation Sans, sans-serif" font-size="8.2" font-weight="bold" font-style="normal" text-anchor="end" fill="#000" >40</text>
<line x1="533.40" y1="215.70" x2="537.70" y2="215.70" stroke="#000" stroke-width="1.2"/>
<text x="531.40" y="218.60" font-family="Liberation Sans, sans-serif" font-size="8.2" font-weight="bold" font-style="normal" text-anchor="end" fill="#000" >50</text>
<text x="618.40" y="201.50" font-family="Liberation Sans, sans-serif" font-size="10" font-weight="bold" font-style="normal" text-anchor="middle" fill="#000" >IL-5</text>
<text x="491.20" y="205.90" font-family="Liberation Sans, sans-serif" font-size="12" font-weight="bold" font-style="normal" text-anchor="start" fill="#000" >F</text>
<text transform="translate(517.30,269.65) rotate(-90)" x="0" y="0" font-family="Liberation Sans, sans-serif" font-size="8.8" font-weight="bold" text-anchor="middle">Plasma IL-5 (pg/mL)</text>
<text x="555.40" y="338.30" font-family="Liberation Sans, sans-serif" font-size="8.6" font-weight="bold" font-style="normal" text-anchor="middle" fill="#000" >F WT</text>
<line x1="548.13" y1="266.60" x2="548.13" y2="276.70" stroke="#4a4a4a" stroke-width="0.9"/>
<line x1="545.53" y1="266.60" x2="550.74" y2="266.60" stroke="#4a4a4a" stroke-width="0.9"/>
<rect x="543.95" y="277.05" width="8.37" height="46.55" fill="#fff" stroke="#000" stroke-width="1.5"/>
<line x1="558.00" y1="240.00" x2="558.00" y2="255.20" stroke="#4a4a4a" stroke-width="0.9"/>
<line x1="555.40" y1="240.00" x2="560.61" y2="240.00" stroke="#4a4a4a" stroke-width="0.9"/>
<rect x="553.82" y="255.55" width="8.37" height="68.05" fill="url(#dotW)" stroke="#000" stroke-width="1.5"/>
<line x1="567.88" y1="252.90" x2="567.88" y2="266.10" stroke="#4a4a4a" stroke-width="0.9"/>
<line x1="565.27" y1="252.90" x2="570.48" y2="252.90" stroke="#4a4a4a" stroke-width="0.9"/>
<rect x="563.69" y="266.45" width="8.37" height="57.15" fill="url(#hatW)" stroke="#000" stroke-width="1.5"/>
<text x="597.20" y="338.30" font-family="Liberation Sans, sans-serif" font-size="8.6" font-weight="bold" font-style="normal" text-anchor="middle" fill="#000" >F Tg</text>
<line x1="588.53" y1="281.50" x2="588.53" y2="286.70" stroke="#4a4a4a" stroke-width="0.9"/>
<line x1="585.93" y1="281.50" x2="591.13" y2="281.50" stroke="#4a4a4a" stroke-width="0.9"/>
<rect x="584.35" y="287.05" width="8.37" height="36.55" fill="#fa0000" stroke="#000" stroke-width="1.5"/>
<line x1="598.40" y1="271.50" x2="598.40" y2="279.50" stroke="#4a4a4a" stroke-width="0.9"/>
<line x1="595.80" y1="271.50" x2="601.00" y2="271.50" stroke="#4a4a4a" stroke-width="0.9"/>
<rect x="594.22" y="279.85" width="8.37" height="43.75" fill="url(#dotR)" stroke="#000" stroke-width="1.5"/>
<line x1="608.27" y1="260.00" x2="608.27" y2="272.40" stroke="#4a4a4a" stroke-width="0.9"/>
<line x1="605.67" y1="260.00" x2="610.88" y2="260.00" stroke="#4a4a4a" stroke-width="0.9"/>
<rect x="604.09" y="272.75" width="8.37" height="50.85" fill="url(#hatR)" stroke="#000" stroke-width="1.5"/>
<text x="638.00" y="338.30" font-family="Liberation Sans, sans-serif" font-size="8.6" font-weight="bold" font-style="normal" text-anchor="middle" fill="#000" >M WT</text>
<line x1="628.93" y1="284.70" x2="628.93" y2="291.60" stroke="#4a4a4a" stroke-width="0.9"/>
<line x1="626.33" y1="284.70" x2="631.53" y2="284.70" stroke="#4a4a4a" stroke-width="0.9"/>
<rect x="624.75" y="291.95" width="8.37" height="31.65" fill="#fff" stroke="#000" stroke-width="1.5"/>
<line x1="638.80" y1="292.70" x2="638.80" y2="296.70" stroke="#4a4a4a" stroke-width="0.9"/>
<line x1="636.20" y1="292.70" x2="641.40" y2="292.70" stroke="#4a4a4a" stroke-width="0.9"/>
<rect x="634.62" y="297.05" width="8.37" height="26.55" fill="url(#dotW)" stroke="#000" stroke-width="1.5"/>
<line x1="648.67" y1="278.70" x2="648.67" y2="288.70" stroke="#4a4a4a" stroke-width="0.9"/>
<line x1="646.07" y1="278.70" x2="651.27" y2="278.70" stroke="#4a4a4a" stroke-width="0.9"/>
<rect x="644.49" y="289.05" width="8.37" height="34.55" fill="url(#hatW)" stroke="#000" stroke-width="1.5"/>
<text x="679.70" y="338.30" font-family="Liberation Sans, sans-serif" font-size="8.6" font-weight="bold" font-style="normal" text-anchor="middle" fill="#000" >M Tg</text>
<line x1="669.34" y1="281.80" x2="669.34" y2="289.60" stroke="#4a4a4a" stroke-width="0.9"/>
<line x1="666.74" y1="281.80" x2="671.94" y2="281.80" stroke="#4a4a4a" stroke-width="0.9"/>
<rect x="665.15" y="289.95" width="8.37" height="33.65" fill="#1a88f5" stroke="#000" stroke-width="1.5"/>
<line x1="679.21" y1="290.40" x2="679.21" y2="293.90" stroke="#4a4a4a" stroke-width="0.9"/>
<line x1="676.61" y1="290.40" x2="681.81" y2="290.40" stroke="#4a4a4a" stroke-width="0.9"/>
<rect x="675.02" y="294.25" width="8.37" height="29.35" fill="url(#dotB)" stroke="#000" stroke-width="1.5"/>
<line x1="689.08" y1="289.60" x2="689.08" y2="293.90" stroke="#4a4a4a" stroke-width="0.9"/>
<line x1="686.48" y1="289.60" x2="691.68" y2="289.60" stroke="#4a4a4a" stroke-width="0.9"/>
<rect x="684.89" y="294.25" width="8.37" height="29.35" fill="url(#hatB)" stroke="#000" stroke-width="1.5"/>
<line x1="44.00" y1="397.00" x2="44.00" y2="505.90" stroke="#000" stroke-width="1.4"/>
<line x1="43.30" y1="505.30" x2="205.20" y2="505.30" stroke="#000" stroke-width="1.4"/>
<line x1="39.70" y1="505.30" x2="44.00" y2="505.30" stroke="#000" stroke-width="1.2"/>
<text x="37.70" y="508.20" font-family="Liberation Sans, sans-serif" font-size="8.2" font-weight="bold" font-style="normal" text-anchor="end" fill="#000" >0</text>
<line x1="39.70" y1="483.76" x2="44.00" y2="483.76" stroke="#000" stroke-width="1.2"/>
<text x="37.70" y="486.66" font-family="Liberation Sans, sans-serif" font-size="8.2" font-weight="bold" font-style="normal" text-anchor="end" fill="#000" >50</text>
<line x1="39.70" y1="462.22" x2="44.00" y2="462.22" stroke="#000" stroke-width="1.2"/>
<text x="37.70" y="465.12" font-family="Liberation Sans, sans-serif" font-size="8.2" font-weight="bold" font-style="normal" text-anchor="end" fill="#000" >100</text>
<line x1="39.70" y1="440.68" x2="44.00" y2="440.68" stroke="#000" stroke-width="1.2"/>
<text x="37.70" y="443.58" font-family="Liberation Sans, sans-serif" font-size="8.2" font-weight="bold" font-style="normal" text-anchor="end" fill="#000" >150</text>
<line x1="39.70" y1="419.14" x2="44.00" y2="419.14" stroke="#000" stroke-width="1.2"/>
<text x="37.70" y="422.04" font-family="Liberation Sans, sans-serif" font-size="8.2" font-weight="bold" font-style="normal" text-anchor="end" fill="#000" >200</text>
<line x1="39.70" y1="397.60" x2="44.00" y2="397.60" stroke="#000" stroke-width="1.2"/>
<text x="37.70" y="400.50" font-family="Liberation Sans, sans-serif" font-size="8.2" font-weight="bold" font-style="normal" text-anchor="end" fill="#000" >250</text>
<text x="124.60" y="383.00" font-family="Liberation Sans, sans-serif" font-size="10" font-weight="bold" font-style="normal" text-anchor="middle" fill="#000" >IL-6</text>
<text x="8.20" y="385.30" font-family="Liberation Sans, sans-serif" font-size="12" font-weight="bold" font-style="normal" text-anchor="start" fill="#000" >G</text>
<text transform="translate(18.80,451.45) rotate(-90)" x="0" y="0" font-family="Liberation Sans, sans-serif" font-size="8.8" font-weight="bold" text-anchor="middle">Plasma IL-6 (pg/mL)</text>
<text x="62.00" y="520.80" font-family="Liberation Sans, sans-serif" font-size="8.6" font-weight="bold" font-style="normal" text-anchor="middle" fill="#000" >F WT</text>
<line x1="54.34" y1="488.30" x2="54.34" y2="491.30" stroke="#4a4a4a" stroke-width="0.9"/>
<line x1="51.73" y1="488.30" x2="56.94" y2="488.30" stroke="#4a4a4a" stroke-width="0.9"/>
<rect x="50.15" y="491.65" width="8.37" height="13.65" fill="#fff" stroke="#000" stroke-width="1.5"/>
<line x1="64.20" y1="493.40" x2="64.20" y2="496.40" stroke="#4a4a4a" stroke-width="0.9"/>
<line x1="61.60" y1="493.40" x2="66.80" y2="493.40" stroke="#4a4a4a" stroke-width="0.9"/>
<rect x="60.02" y="496.75" width="8.37" height="8.55" fill="url(#dotW)" stroke="#000" stroke-width="1.5"/>
<line x1="74.08" y1="490.40" x2="74.08" y2="494.90" stroke="#4a4a4a" stroke-width="0.9"/>
<line x1="71.48" y1="490.40" x2="76.67" y2="490.40" stroke="#4a4a4a" stroke-width="0.9"/>
<rect x="69.89" y="495.25" width="8.37" height="10.05" fill="url(#hatW)" stroke="#000" stroke-width="1.5"/>
<text x="103.90" y="520.80" font-family="Liberation Sans, sans-serif" font-size="8.6" font-weight="bold" font-style="normal" text-anchor="middle" fill="#000" >F Tg</text>
<line x1="94.94" y1="482.30" x2="94.94" y2="488.90" stroke="#4a4a4a" stroke-width="0.9"/>
<line x1="92.34" y1="482.30" x2="97.53" y2="482.30" stroke="#4a4a4a" stroke-width="0.9"/>
<rect x="90.75" y="489.25" width="8.37" height="16.05" fill="#fa0000" stroke="#000" stroke-width="1.5"/>
<line x1="104.81" y1="486.20" x2="104.81" y2="490.70" stroke="#4a4a4a" stroke-width="0.9"/>
<line x1="102.21" y1="486.20" x2="107.41" y2="486.20" stroke="#4a4a4a" stroke-width="0.9"/>
<rect x="100.62" y="491.05" width="8.37" height="14.25" fill="url(#dotR)" stroke="#000" stroke-width="1.5"/>
<line x1="114.67" y1="476.90" x2="114.67" y2="478.40" stroke="#4a4a4a" stroke-width="0.9"/>
<line x1="112.08" y1="476.90" x2="117.27" y2="476.90" stroke="#4a4a4a" stroke-width="0.9"/>
<rect x="110.49" y="478.75" width="8.37" height="26.55" fill="url(#hatR)" stroke="#000" stroke-width="1.5"/>
<text x="144.50" y="520.80" font-family="Liberation Sans, sans-serif" font-size="8.6" font-weight="bold" font-style="normal" text-anchor="middle" fill="#000" >M WT</text>
<line x1="135.53" y1="464.40" x2="135.53" y2="474.20" stroke="#4a4a4a" stroke-width="0.9"/>
<line x1="132.94" y1="464.40" x2="138.13" y2="464.40" stroke="#4a4a4a" stroke-width="0.9"/>
<rect x="131.35" y="474.55" width="8.37" height="30.75" fill="#fff" stroke="#000" stroke-width="1.5"/>
<line x1="145.41" y1="479.30" x2="145.41" y2="488.90" stroke="#4a4a4a" stroke-width="0.9"/>
<line x1="142.81" y1="479.30" x2="148.00" y2="479.30" stroke="#4a4a4a" stroke-width="0.9"/>
<rect x="141.22" y="489.25" width="8.37" height="16.05" fill="url(#dotW)" stroke="#000" stroke-width="1.5"/>
<line x1="155.28" y1="466.50" x2="155.28" y2="478.40" stroke="#4a4a4a" stroke-width="0.9"/>
<line x1="152.68" y1="466.50" x2="157.88" y2="466.50" stroke="#4a4a4a" stroke-width="0.9"/>
<rect x="151.09" y="478.75" width="8.37" height="26.55" fill="url(#hatW)" stroke="#000" stroke-width="1.5"/>
<text x="186.80" y="520.80" font-family="Liberation Sans, sans-serif" font-size="8.6" font-weight="bold" font-style="normal" text-anchor="middle" fill="#000" >M Tg</text>
<line x1="176.14" y1="473.30" x2="176.14" y2="481.70" stroke="#4a4a4a" stroke-width="0.9"/>
<line x1="173.54" y1="473.30" x2="178.74" y2="473.30" stroke="#4a4a4a" stroke-width="0.9"/>
<rect x="171.95" y="482.05" width="8.37" height="23.25" fill="#1a88f5" stroke="#000" stroke-width="1.5"/>
<line x1="186.01" y1="495.20" x2="186.01" y2="498.20" stroke="#4a4a4a" stroke-width="0.9"/>
<line x1="183.41" y1="495.20" x2="188.61" y2="495.20" stroke="#4a4a4a" stroke-width="0.9"/>
<rect x="181.82" y="498.55" width="8.37" height="6.75" fill="url(#dotB)" stroke="#000" stroke-width="1.5"/>
<line x1="195.88" y1="422.40" x2="195.88" y2="445.80" stroke="#4a4a4a" stroke-width="0.9"/>
<line x1="193.28" y1="422.40" x2="198.48" y2="422.40" stroke="#4a4a4a" stroke-width="0.9"/>
<rect x="191.69" y="446.15" width="8.37" height="59.15" fill="url(#hatB)" stroke="#000" stroke-width="1.5"/>
<path d="M187.00,413.40V419.60M187.00,416.50H196.10M196.10,413.40V419.60" stroke="#000" stroke-width="1.5" fill="none"/>
<text x="191.70" y="415.30" font-family="Liberation Sans, sans-serif" font-size="8" font-weight="bold" font-style="normal" text-anchor="middle" fill="#111" >*</text>
<line x1="292.70" y1="395.40" x2="292.70" y2="504.50" stroke="#000" stroke-width="1.4"/>
<line x1="292.00" y1="503.90" x2="454.10" y2="503.90" stroke="#000" stroke-width="1.4"/>
<line x1="288.40" y1="503.90" x2="292.70" y2="503.90" stroke="#000" stroke-width="1.2"/>
<text x="286.40" y="506.80" font-family="Liberation Sans, sans-serif" font-size="8.2" font-weight="bold" font-style="normal" text-anchor="end" fill="#000" >0</text>
<line x1="288.40" y1="482.32" x2="292.70" y2="482.32" stroke="#000" stroke-width="1.2"/>
<text x="286.40" y="485.22" font-family="Liberation Sans, sans-serif" font-size="8.2" font-weight="bold" font-style="normal" text-anchor="end" fill="#000" >100</text>
<line x1="288.40" y1="460.74" x2="292.70" y2="460.74" stroke="#000" stroke-width="1.2"/>
<text x="286.40" y="463.64" font-family="Liberation Sans, sans-serif" font-size="8.2" font-weight="bold" font-style="normal" text-anchor="end" fill="#000" >200</text>
<line x1="288.40" y1="439.16" x2="292.70" y2="439.16" stroke="#000" stroke-width="1.2"/>
<text x="286.40" y="442.06" font-family="Liberation Sans, sans-serif" font-size="8.2" font-weight="bold" font-style="normal" text-anchor="end" fill="#000" >300</text>
<line x1="288.40" y1="417.58" x2="292.70" y2="417.58" stroke="#000" stroke-width="1.2"/>
<text x="286.40" y="420.48" font-family="Liberation Sans, sans-serif" font-size="8.2" font-weight="bold" font-style="normal" text-anchor="end" fill="#000" >400</text>
<line x1="288.40" y1="396.00" x2="292.70" y2="396.00" stroke="#000" stroke-width="1.2"/>
<text x="286.40" y="398.90" font-family="Liberation Sans, sans-serif" font-size="8.2" font-weight="bold" font-style="normal" text-anchor="end" fill="#000" >500</text>
<text x="373.40" y="382.00" font-family="Liberation Sans, sans-serif" font-size="10" font-weight="bold" font-style="normal" text-anchor="middle" fill="#000" >IL-12p70</text>
<text x="241.40" y="385.10" font-family="Liberation Sans, sans-serif" font-size="12" font-weight="bold" font-style="normal" text-anchor="start" fill="#000" >H</text>
<text transform="translate(268.10,449.95) rotate(-90)" x="0" y="0" font-family="Liberation Sans, sans-serif" font-size="8.8" font-weight="bold" text-anchor="middle">Plasma IL-12p70 (pg/mL)</text>
<text x="311.10" y="520.00" font-family="Liberation Sans, sans-serif" font-size="8.6" font-weight="bold" font-style="normal" text-anchor="middle" fill="#000" >F WT</text>
<line x1="303.03" y1="451.40" x2="303.03" y2="464.50" stroke="#4a4a4a" stroke-width="0.9"/>
<line x1="300.43" y1="451.40" x2="305.63" y2="451.40" stroke="#4a4a4a" stroke-width="0.9"/>
<rect x="298.85" y="464.85" width="8.37" height="39.05" fill="#fff" stroke="#000" stroke-width="1.5"/>
<line x1="312.90" y1="462.50" x2="312.90" y2="475.10" stroke="#4a4a4a" stroke-width="0.9"/>
<line x1="310.30" y1="462.50" x2="315.50" y2="462.50" stroke="#4a4a4a" stroke-width="0.9"/>
<rect x="308.72" y="475.45" width="8.37" height="28.45" fill="url(#dotW)" stroke="#000" stroke-width="1.5"/>
<line x1="322.77" y1="442.20" x2="322.77" y2="459.10" stroke="#4a4a4a" stroke-width="0.9"/>
<line x1="320.17" y1="442.20" x2="325.38" y2="442.20" stroke="#4a4a4a" stroke-width="0.9"/>
<rect x="318.59" y="459.45" width="8.37" height="44.45" fill="url(#hatW)" stroke="#000" stroke-width="1.5"/>
<text x="352.40" y="520.00" font-family="Liberation Sans, sans-serif" font-size="8.6" font-weight="bold" font-style="normal" text-anchor="middle" fill="#000" >F Tg</text>
<line x1="343.63" y1="474.40" x2="343.63" y2="484.70" stroke="#4a4a4a" stroke-width="0.9"/>
<line x1="341.03" y1="474.40" x2="346.24" y2="474.40" stroke="#4a4a4a" stroke-width="0.9"/>
<rect x="339.45" y="485.05" width="8.37" height="18.85" fill="#fa0000" stroke="#000" stroke-width="1.5"/>
<line x1="353.50" y1="441.40" x2="353.50" y2="455.70" stroke="#4a4a4a" stroke-width="0.9"/>
<line x1="350.90" y1="441.40" x2="356.11" y2="441.40" stroke="#4a4a4a" stroke-width="0.9"/>
<rect x="349.32" y="456.05" width="8.37" height="47.85" fill="url(#dotR)" stroke="#000" stroke-width="1.5"/>
<line x1="363.38" y1="438.40" x2="363.38" y2="457.80" stroke="#4a4a4a" stroke-width="0.9"/>
<line x1="360.77" y1="438.40" x2="365.98" y2="438.40" stroke="#4a4a4a" stroke-width="0.9"/>
<rect x="359.19" y="458.15" width="8.37" height="45.75" fill="url(#hatR)" stroke="#000" stroke-width="1.5"/>
<text x="393.40" y="520.00" font-family="Liberation Sans, sans-serif" font-size="8.6" font-weight="bold" font-style="normal" text-anchor="middle" fill="#000" >M WT</text>
<line x1="384.23" y1="409.90" x2="384.23" y2="441.40" stroke="#4a4a4a" stroke-width="0.9"/>
<line x1="381.63" y1="409.90" x2="386.83" y2="409.90" stroke="#4a4a4a" stroke-width="0.9"/>
<rect x="380.05" y="441.75" width="8.37" height="62.15" fill="#fff" stroke="#000" stroke-width="1.5"/>
<line x1="394.10" y1="441.40" x2="394.10" y2="451.90" stroke="#4a4a4a" stroke-width="0.9"/>
<line x1="391.50" y1="441.40" x2="396.70" y2="441.40" stroke="#4a4a4a" stroke-width="0.9"/>
<rect x="389.92" y="452.25" width="8.37" height="51.65" fill="url(#dotW)" stroke="#000" stroke-width="1.5"/>
<line x1="403.97" y1="480.30" x2="403.97" y2="490.80" stroke="#4a4a4a" stroke-width="0.9"/>
<line x1="401.37" y1="480.30" x2="406.57" y2="480.30" stroke="#4a4a4a" stroke-width="0.9"/>
<rect x="399.79" y="491.15" width="8.37" height="12.75" fill="url(#hatW)" stroke="#000" stroke-width="1.5"/>
<text x="435.10" y="520.00" font-family="Liberation Sans, sans-serif" font-size="8.6" font-weight="bold" font-style="normal" text-anchor="middle" fill="#000" >M Tg</text>
<line x1="424.83" y1="468.30" x2="424.83" y2="477.90" stroke="#4a4a4a" stroke-width="0.9"/>
<line x1="422.23" y1="468.30" x2="427.44" y2="468.30" stroke="#4a4a4a" stroke-width="0.9"/>
<rect x="420.65" y="478.25" width="8.37" height="25.65" fill="#1a88f5" stroke="#000" stroke-width="1.5"/>
<line x1="434.70" y1="468.30" x2="434.70" y2="479.40" stroke="#4a4a4a" stroke-width="0.9"/>
<line x1="432.10" y1="468.30" x2="437.31" y2="468.30" stroke="#4a4a4a" stroke-width="0.9"/>
<rect x="430.52" y="479.75" width="8.37" height="24.15" fill="url(#dotB)" stroke="#000" stroke-width="1.5"/>
<line x1="444.57" y1="448.90" x2="444.57" y2="466.20" stroke="#4a4a4a" stroke-width="0.9"/>
<line x1="441.97" y1="448.90" x2="447.18" y2="448.90" stroke="#4a4a4a" stroke-width="0.9"/>
<rect x="440.39" y="466.55" width="8.37" height="37.35" fill="url(#hatB)" stroke="#000" stroke-width="1.5"/>
<line x1="541.10" y1="396.70" x2="541.10" y2="505.80" stroke="#000" stroke-width="1.4"/>
<line x1="540.40" y1="505.20" x2="702.60" y2="505.20" stroke="#000" stroke-width="1.4"/>
<line x1="536.80" y1="505.20" x2="541.10" y2="505.20" stroke="#000" stroke-width="1.2"/>
<text x="534.80" y="508.10" font-family="Liberation Sans, sans-serif" font-size="8.2" font-weight="bold" font-style="normal" text-anchor="end" fill="#000" >0</text>
<line x1="536.80" y1="469.23" x2="541.10" y2="469.23" stroke="#000" stroke-width="1.2"/>
<text x="534.80" y="472.13" font-family="Liberation Sans, sans-serif" font-size="8.2" font-weight="bold" font-style="normal" text-anchor="end" fill="#000" >100</text>
<line x1="536.80" y1="433.27" x2="541.10" y2="433.27" stroke="#000" stroke-width="1.2"/>
<text x="534.80" y="436.17" font-family="Liberation Sans, sans-serif" font-size="8.2" font-weight="bold" font-style="normal" text-anchor="end" fill="#000" >200</text>
<line x1="536.80" y1="397.30" x2="541.10" y2="397.30" stroke="#000" stroke-width="1.2"/>
<text x="534.80" y="400.20" font-family="Liberation Sans, sans-serif" font-size="8.2" font-weight="bold" font-style="normal" text-anchor="end" fill="#000" >300</text>
<text x="621.85" y="383.00" font-family="Liberation Sans, sans-serif" font-size="10" font-weight="bold" font-style="normal" text-anchor="middle" fill="#000" >KC-GRO</text>
<text x="491.70" y="385.80" font-family="Liberation Sans, sans-serif" font-size="12" font-weight="bold" font-style="normal" text-anchor="start" fill="#000" >I</text>
<text transform="translate(515.80,451.25) rotate(-90)" x="0" y="0" font-family="Liberation Sans, sans-serif" font-size="8.8" font-weight="bold" text-anchor="middle">Plasma KC-GRO (pg/mL)</text>
<text x="558.80" y="521.10" font-family="Liberation Sans, sans-serif" font-size="8.6" font-weight="bold" font-style="normal" text-anchor="middle" fill="#000" >F WT</text>
<line x1="551.43" y1="452.40" x2="551.43" y2="461.60" stroke="#4a4a4a" stroke-width="0.9"/>
<line x1="548.83" y1="452.40" x2="554.03" y2="452.40" stroke="#4a4a4a" stroke-width="0.9"/>
<rect x="547.25" y="461.95" width="8.37" height="43.25" fill="#fff" stroke="#000" stroke-width="1.5"/>
<line x1="561.30" y1="447.40" x2="561.30" y2="454.40" stroke="#4a4a4a" stroke-width="0.9"/>
<line x1="558.70" y1="447.40" x2="563.90" y2="447.40" stroke="#4a4a4a" stroke-width="0.9"/>
<rect x="557.12" y="454.75" width="8.37" height="50.45" fill="url(#dotW)" stroke="#000" stroke-width="1.5"/>
<line x1="571.17" y1="428.30" x2="571.17" y2="443.80" stroke="#4a4a4a" stroke-width="0.9"/>
<line x1="568.57" y1="428.30" x2="573.77" y2="428.30" stroke="#4a4a4a" stroke-width="0.9"/>
<rect x="566.99" y="444.15" width="8.37" height="61.05" fill="url(#hatW)" stroke="#000" stroke-width="1.5"/>
<text x="600.70" y="521.10" font-family="Liberation Sans, sans-serif" font-size="8.6" font-weight="bold" font-style="normal" text-anchor="middle" fill="#000" >F Tg</text>
<line x1="592.03" y1="429.20" x2="592.03" y2="436.50" stroke="#4a4a4a" stroke-width="0.9"/>
<line x1="589.43" y1="429.20" x2="594.63" y2="429.20" stroke="#4a4a4a" stroke-width="0.9"/>
<rect x="587.85" y="436.85" width="8.37" height="68.35" fill="#fa0000" stroke="#000" stroke-width="1.5"/>
<line x1="601.90" y1="427.00" x2="601.90" y2="439.30" stroke="#4a4a4a" stroke-width="0.9"/>
<line x1="599.30" y1="427.00" x2="604.50" y2="427.00" stroke="#4a4a4a" stroke-width="0.9"/>
<rect x="597.72" y="439.65" width="8.37" height="65.55" fill="url(#dotR)" stroke="#000" stroke-width="1.5"/>
<line x1="611.77" y1="424.30" x2="611.77" y2="433.00" stroke="#4a4a4a" stroke-width="0.9"/>
<line x1="609.17" y1="424.30" x2="614.38" y2="424.30" stroke="#4a4a4a" stroke-width="0.9"/>
<rect x="607.59" y="433.35" width="8.37" height="71.85" fill="url(#hatR)" stroke="#000" stroke-width="1.5"/>
<text x="641.30" y="521.10" font-family="Liberation Sans, sans-serif" font-size="8.6" font-weight="bold" font-style="normal" text-anchor="middle" fill="#000" >M WT</text>
<line x1="632.63" y1="434.50" x2="632.63" y2="442.30" stroke="#4a4a4a" stroke-width="0.9"/>
<line x1="630.03" y1="434.50" x2="635.24" y2="434.50" stroke="#4a4a4a" stroke-width="0.9"/>
<rect x="628.45" y="442.65" width="8.37" height="62.55" fill="#fff" stroke="#000" stroke-width="1.5"/>
<line x1="642.50" y1="436.30" x2="642.50" y2="442.90" stroke="#4a4a4a" stroke-width="0.9"/>
<line x1="639.90" y1="436.30" x2="645.11" y2="436.30" stroke="#4a4a4a" stroke-width="0.9"/>
<rect x="638.32" y="443.25" width="8.37" height="61.95" fill="url(#dotW)" stroke="#000" stroke-width="1.5"/>
<line x1="652.38" y1="428.50" x2="652.38" y2="441.40" stroke="#4a4a4a" stroke-width="0.9"/>
<line x1="649.77" y1="428.50" x2="654.98" y2="428.50" stroke="#4a4a4a" stroke-width="0.9"/>
<rect x="648.19" y="441.75" width="8.37" height="63.45" fill="url(#hatW)" stroke="#000" stroke-width="1.5"/>
<text x="683.40" y="521.10" font-family="Liberation Sans, sans-serif" font-size="8.6" font-weight="bold" font-style="normal" text-anchor="middle" fill="#000" >M Tg</text>
<line x1="673.23" y1="403.30" x2="673.23" y2="422.50" stroke="#4a4a4a" stroke-width="0.9"/>
<line x1="670.63" y1="403.30" x2="675.83" y2="403.30" stroke="#4a4a4a" stroke-width="0.9"/>
<rect x="669.05" y="422.85" width="8.37" height="82.35" fill="#1a88f5" stroke="#000" stroke-width="1.5"/>
<line x1="683.10" y1="442.90" x2="683.10" y2="448.30" stroke="#4a4a4a" stroke-width="0.9"/>
<line x1="680.50" y1="442.90" x2="685.70" y2="442.90" stroke="#4a4a4a" stroke-width="0.9"/>
<rect x="678.92" y="448.65" width="8.37" height="56.55" fill="url(#dotB)" stroke="#000" stroke-width="1.5"/>
<line x1="692.97" y1="447.40" x2="692.97" y2="453.30" stroke="#4a4a4a" stroke-width="0.9"/>
<line x1="690.37" y1="447.40" x2="695.57" y2="447.40" stroke="#4a4a4a" stroke-width="0.9"/>
<rect x="688.79" y="453.65" width="8.37" height="51.55" fill="url(#hatB)" stroke="#000" stroke-width="1.5"/>
<path d="M547.60,414.30V420.50M547.60,417.40H590.20M590.20,414.30V420.50" stroke="#000" stroke-width="1.5" fill="none"/>
<text x="568.50" y="415.10" font-family="Liberation Sans, sans-serif" font-size="8" font-weight="bold" font-style="normal" text-anchor="middle" fill="#111" >*</text>
<line x1="44.40" y1="571.80" x2="44.40" y2="680.10" stroke="#000" stroke-width="1.4"/>
<line x1="43.70" y1="679.50" x2="205.60" y2="679.50" stroke="#000" stroke-width="1.4"/>
<line x1="40.10" y1="679.50" x2="44.40" y2="679.50" stroke="#000" stroke-width="1.2"/>
<text x="38.10" y="682.40" font-family="Liberation Sans, sans-serif" font-size="8.2" font-weight="bold" font-style="normal" text-anchor="end" fill="#000" >0</text>
<line x1="40.10" y1="658.08" x2="44.40" y2="658.08" stroke="#000" stroke-width="1.2"/>
<text x="38.10" y="660.98" font-family="Liberation Sans, sans-serif" font-size="8.2" font-weight="bold" font-style="normal" text-anchor="end" fill="#000" >10</text>
<line x1="40.10" y1="636.66" x2="44.40" y2="636.66" stroke="#000" stroke-width="1.2"/>
<text x="38.10" y="639.56" font-family="Liberation Sans, sans-serif" font-size="8.2" font-weight="bold" font-style="normal" text-anchor="end" fill="#000" >20</text>
<line x1="40.10" y1="615.24" x2="44.40" y2="615.24" stroke="#000" stroke-width="1.2"/>
<text x="38.10" y="618.14" font-family="Liberation Sans, sans-serif" font-size="8.2" font-weight="bold" font-style="normal" text-anchor="end" fill="#000" >30</text>
<line x1="40.10" y1="593.82" x2="44.40" y2="593.82" stroke="#000" stroke-width="1.2"/>
<text x="38.10" y="596.72" font-family="Liberation Sans, sans-serif" font-size="8.2" font-weight="bold" font-style="normal" text-anchor="end" fill="#000" >40</text>
<line x1="40.10" y1="572.40" x2="44.40" y2="572.40" stroke="#000" stroke-width="1.2"/>
<text x="38.10" y="575.30" font-family="Liberation Sans, sans-serif" font-size="8.2" font-weight="bold" font-style="normal" text-anchor="end" fill="#000" >50</text>
<text x="125.00" y="557.30" font-family="Liberation Sans, sans-serif" font-size="10" font-weight="bold" font-style="normal" text-anchor="middle" fill="#000" >TNF<tspan font-family="Liberation Serif" font-weight="normal">α</tspan></text>
<text x="13.50" y="550.00" font-family="Liberation Sans, sans-serif" font-size="12" font-weight="bold" font-style="normal" text-anchor="start" fill="#000" >J</text>
<text transform="translate(22.80,625.95) rotate(-90)" x="0" y="0" font-family="Liberation Sans, sans-serif" font-size="8.8" font-weight="bold" text-anchor="middle">Plasma TNF<tspan font-family="Liberation Serif" font-weight="normal">α</tspan> (pg/mL)</text>
<text x="62.00" y="695.60" font-family="Liberation Sans, sans-serif" font-size="8.6" font-weight="bold" font-style="normal" text-anchor="middle" fill="#000" >F WT</text>
<line x1="54.34" y1="610.40" x2="54.34" y2="618.80" stroke="#4a4a4a" stroke-width="0.9"/>
<line x1="51.73" y1="610.40" x2="56.94" y2="610.40" stroke="#4a4a4a" stroke-width="0.9"/>
<rect x="50.15" y="619.15" width="8.37" height="60.35" fill="#fff" stroke="#000" stroke-width="1.5"/>
<line x1="64.20" y1="606.20" x2="64.20" y2="612.40" stroke="#4a4a4a" stroke-width="0.9"/>
<line x1="61.60" y1="606.20" x2="66.80" y2="606.20" stroke="#4a4a4a" stroke-width="0.9"/>
<rect x="60.02" y="612.75" width="8.37" height="66.75" fill="url(#dotW)" stroke="#000" stroke-width="1.5"/>
<line x1="74.08" y1="616.20" x2="74.08" y2="623.20" stroke="#4a4a4a" stroke-width="0.9"/>
<line x1="71.48" y1="616.20" x2="76.67" y2="616.20" stroke="#4a4a4a" stroke-width="0.9"/>
<rect x="69.89" y="623.55" width="8.37" height="55.95" fill="url(#hatW)" stroke="#000" stroke-width="1.5"/>
<text x="103.90" y="695.60" font-family="Liberation Sans, sans-serif" font-size="8.6" font-weight="bold" font-style="normal" text-anchor="middle" fill="#000" >F Tg</text>
<line x1="94.94" y1="608.20" x2="94.94" y2="616.40" stroke="#4a4a4a" stroke-width="0.9"/>
<line x1="92.34" y1="608.20" x2="97.53" y2="608.20" stroke="#4a4a4a" stroke-width="0.9"/>
<rect x="90.75" y="616.75" width="8.37" height="62.75" fill="#fa0000" stroke="#000" stroke-width="1.5"/>
<line x1="104.81" y1="625.40" x2="104.81" y2="632.30" stroke="#4a4a4a" stroke-width="0.9"/>
<line x1="102.21" y1="625.40" x2="107.41" y2="625.40" stroke="#4a4a4a" stroke-width="0.9"/>
<rect x="100.62" y="632.65" width="8.37" height="46.85" fill="url(#dotR)" stroke="#000" stroke-width="1.5"/>
<line x1="114.67" y1="598.80" x2="114.67" y2="605.40" stroke="#4a4a4a" stroke-width="0.9"/>
<line x1="112.08" y1="598.80" x2="117.27" y2="598.80" stroke="#4a4a4a" stroke-width="0.9"/>
<rect x="110.49" y="605.75" width="8.37" height="73.75" fill="url(#hatR)" stroke="#000" stroke-width="1.5"/>
<text x="144.60" y="695.60" font-family="Liberation Sans, sans-serif" font-size="8.6" font-weight="bold" font-style="normal" text-anchor="middle" fill="#000" >M WT</text>
<line x1="135.53" y1="618.50" x2="135.53" y2="626.90" stroke="#4a4a4a" stroke-width="0.9"/>
<line x1="132.94" y1="618.50" x2="138.13" y2="618.50" stroke="#4a4a4a" stroke-width="0.9"/>
<rect x="131.35" y="627.25" width="8.37" height="52.25" fill="#fff" stroke="#000" stroke-width="1.5"/>
<line x1="145.41" y1="595.40" x2="145.41" y2="606.40" stroke="#4a4a4a" stroke-width="0.9"/>
<line x1="142.81" y1="595.40" x2="148.00" y2="595.40" stroke="#4a4a4a" stroke-width="0.9"/>
<rect x="141.22" y="606.75" width="8.37" height="72.75" fill="url(#dotW)" stroke="#000" stroke-width="1.5"/>
<line x1="155.28" y1="615.50" x2="155.28" y2="619.30" stroke="#4a4a4a" stroke-width="0.9"/>
<line x1="152.68" y1="615.50" x2="157.88" y2="615.50" stroke="#4a4a4a" stroke-width="0.9"/>
<rect x="151.09" y="619.65" width="8.37" height="59.85" fill="url(#hatW)" stroke="#000" stroke-width="1.5"/>
<text x="186.80" y="695.60" font-family="Liberation Sans, sans-serif" font-size="8.6" font-weight="bold" font-style="normal" text-anchor="middle" fill="#000" >M Tg</text>
<line x1="176.14" y1="629.60" x2="176.14" y2="635.70" stroke="#4a4a4a" stroke-width="0.9"/>
<line x1="173.54" y1="629.60" x2="178.74" y2="629.60" stroke="#4a4a4a" stroke-width="0.9"/>
<rect x="171.95" y="636.05" width="8.37" height="43.45" fill="#1a88f5" stroke="#000" stroke-width="1.5"/>
<line x1="186.01" y1="626.90" x2="186.01" y2="631.60" stroke="#4a4a4a" stroke-width="0.9"/>
<line x1="183.41" y1="626.90" x2="188.61" y2="626.90" stroke="#4a4a4a" stroke-width="0.9"/>
<rect x="181.82" y="631.95" width="8.37" height="47.55" fill="url(#dotB)" stroke="#000" stroke-width="1.5"/>
<line x1="195.88" y1="608.50" x2="195.88" y2="618.20" stroke="#4a4a4a" stroke-width="0.9"/>
<line x1="193.28" y1="608.50" x2="198.48" y2="608.50" stroke="#4a4a4a" stroke-width="0.9"/>
<rect x="191.69" y="618.55" width="8.37" height="60.95" fill="url(#hatB)" stroke="#000" stroke-width="1.5"/>
<path d="M92.50,578.60V584.80M92.50,581.70H174.60M174.60,578.60V584.80" stroke="#000" stroke-width="1.5" fill="none"/>
<text x="133.25" y="575.10" font-family="Liberation Sans, sans-serif" font-size="8.2" font-weight="normal" font-style="italic" text-anchor="middle" fill="#333" stroke="#333" stroke-width="0.15" textLength="31.2" lengthAdjust="spacingAndGlyphs">p=0.057</text>
<path d="M104.00,589.20V595.40M104.00,592.30H114.60M114.60,589.20V595.40" stroke="#000" stroke-width="1.5" fill="none"/>
<text x="108.50" y="591.20" font-family="Liberation Sans, sans-serif" font-size="8" font-weight="bold" font-style="normal" text-anchor="middle" fill="#111" >*</text>
<rect x="713.8" y="662.90" width="11" height="5.6" fill="#fff" stroke="#000" stroke-width="1.6"/>
<text x="731.00" y="669.10" font-family="Liberation Sans, sans-serif" font-size="8.8" font-weight="normal" font-style="normal" text-anchor="start" fill="#222" >0 Gy</text>
<rect x="713.8" y="678.00" width="11" height="5.6" fill="url(#dotL)" stroke="#000" stroke-width="1.6"/>
<text x="731.00" y="684.20" font-family="Liberation Sans, sans-serif" font-size="8.8" font-weight="normal" font-style="normal" text-anchor="start" fill="#222" >0.10 Gy</text>
<rect x="713.8" y="693.00" width="11" height="5.6" fill="url(#hatW)" stroke="#000" stroke-width="1.6"/>
<text x="731.00" y="699.20" font-family="Liberation Sans, sans-serif" font-size="8.8" font-weight="normal" font-style="normal" text-anchor="start" fill="#222" >0.50 Gy</text>
</svg>
</body></html>
